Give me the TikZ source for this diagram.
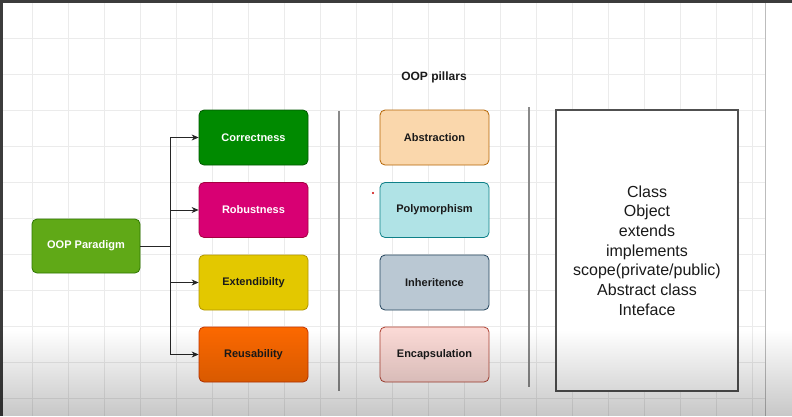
\documentclass[tikz,border=0pt]{standalone}
\usepackage{fontspec}
\setmainfont{Liberation Sans}
\usepackage{tikz}
\usetikzlibrary{arrows.meta,positioning,fadings}
\definecolor{gridln}{HTML}{EBEBEB}
\definecolor{frame}{HTML}{3C3C3C}
\definecolor{sepgray}{HTML}{8A8A8A}
\definecolor{paragrn}{HTML}{60A917}
\definecolor{paradrk}{HTML}{2D7600}
\definecolor{corrfill}{HTML}{008A00}
\definecolor{corrdraw}{HTML}{005700}
\definecolor{robufill}{HTML}{D80073}
\definecolor{robudraw}{HTML}{A50040}
\definecolor{extfill}{HTML}{E3C800}
\definecolor{extdraw}{HTML}{B09500}
\definecolor{reusfill}{HTML}{FA6800}
\definecolor{reusdraw}{HTML}{C73500}
\definecolor{absfill}{HTML}{FAD7AC}
\definecolor{absdraw}{HTML}{B46504}
\definecolor{polyfill}{HTML}{B0E3E6}
\definecolor{polydraw}{HTML}{0E8088}
\definecolor{inhfill}{HTML}{BAC8D3}
\definecolor{inhdraw}{HTML}{23445D}
\definecolor{encfill}{HTML}{FAD9D5}
\definecolor{encdraw}{HTML}{AE4132}
\definecolor{txtdark}{HTML}{1A1A1A}
\tikzset{
  cardbox/.style={rounded corners=5pt,line width=0.8pt,
                  minimum width=109pt,minimum height=55pt,inner sep=2pt,
                  align=center,font=\fontsize{11}{13}\selectfont\bfseries,text=txtdark},
  lighttxt/.style={text=white},
  topicbox/.style={draw=frame!90,fill=white,line width=1.3pt,
                   minimum width=182pt,minimum height=281pt,align=center,
                   font=\fontsize{16}{19.7}\selectfont,text=txtdark},
  flowarr/.style={-{Stealth[length=7pt,width=6pt]},line width=0.7pt,color=black!85},
  sepline/.style={draw=sepgray,line width=1.3pt}
}

\begin{document}
\begin{tikzpicture}[x=1pt,y=-1pt]
  \useasboundingbox (0,0) rectangle (792,416);
  % canvas and grid
  \fill[white] (0,0) rectangle (792,416);
  \foreach \gx in {32,68,...,760} {
    \draw[gridln,line width=0.8pt] (\gx,3) -- (\gx,416);
  }
  \foreach \gy in {38,74,...,416} {
    \draw[gridln,line width=0.8pt] (3,\gy) -- (765,\gy);
  }
  \draw[gridln!80!black,line width=0.8pt] (765,3) -- (765,416);
  \fill[frame] (0,0) rectangle (792,3);
  \fill[frame] (0,0) rectangle (3,416);

  % root and qualities
  \node[cardbox,lighttxt,fill=paragrn,draw=paradrk,minimum width=108pt,minimum height=54pt] (para) at (86,246) {OOP Paradigm};
  \node[cardbox,lighttxt,fill=corrfill,draw=corrdraw] (corr) at (253.5,137.5) {Correctness};
  \node[cardbox,lighttxt,fill=robufill,draw=robudraw] (robu) at (253.5,210) {Robustness};
  \node[cardbox,fill=extfill,draw=extdraw] (ext) at (253.5,282.5) {Extendibilty};
  \node[cardbox,fill=reusfill,draw=reusdraw] (reus) at (253.5,354.5) {Reusability};

  \coordinate (trunk) at (170,246);
  \foreach \dest in {corr,robu,ext,reus} {
    \draw[flowarr] (para.east) -- (trunk) |- (\dest.west);
  }

  % separators
  \draw[sepline] (339,111) -- (339,391);
  \draw[sepline] (529,107) -- (529,387);

  % pillars
  \node[font=\fontsize{12}{14}\selectfont\bfseries,text=txtdark] (ptitle) at (434,77) {OOP pillars};
  \node[cardbox,fill=absfill,draw=absdraw] (abst) at (434.5,137.5) {Abstraction};
  \node[cardbox,fill=polyfill,draw=polydraw] (poly) at (434.5,210) {Polymorphism};
  \node[cardbox,fill=inhfill,draw=inhdraw] (inhe) at (434.5,282.5) {Inheritence};
  \node[cardbox,fill=encfill,draw=encdraw] (enca) at (434.5,354.5) {Encapsulation};
  \fill[red!80!black] (373,193) circle (1.2);

  % topics
  \node[topicbox] (topics) at (647,250.5) {Class\\Object\\extends\\implements\\scope(private/public)\\Abstract class\\Inteface};

  % bottom shade of the capture
  \fill[black,fill opacity=0.22,path fading=north] (0,330) rectangle (792,416);
\end{tikzpicture}
\end{document}
